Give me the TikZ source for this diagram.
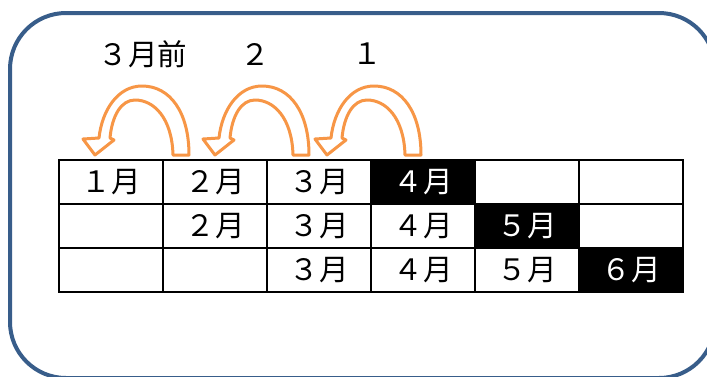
\documentclass[tikz,border=0pt]{standalone}
\usepackage{fontspec}
\newfontfamily\jp{Noto Sans CJK JP}
\usepackage{tikz}
\usetikzlibrary{positioning}
\definecolor{frameblue}{HTML}{385D8A}
\definecolor{arrorange}{HTML}{F79646}
\tikzset{
    cell/.style = {draw, line width=1.5pt, minimum width=104pt, minimum height=44pt,
                 inner sep=0pt, outer sep=0pt, font=\jp\fontsize{29.5}{32}\selectfont},
    dark/.style = {cell, fill=black, text=white},
    toplabel/.style = {inner sep=0pt, font=\jp\fontsize{29.5}{32}\selectfont},
    frame/.style = {draw=frameblue, line width=4pt, rounded corners=56pt},
    uline/.style = {draw=arrorange, line width=3pt, fill=white, line join=round},
    uturn/.pic = {
      \draw[uline] (189,155) .. controls (189,112) and (170,86) .. (142,86)
        .. controls (118,86) and (102,110) .. (99,138)
        -- (83,139) -- (95,155) -- (114,140) -- (110,138)
        .. controls (112,116) and (121,100) .. (135,100)
        .. controls (154,100) and (172,118) .. (173,155) -- cycle;
    },
}

\begin{document}
\begin{tikzpicture}[x=1pt,y=-1pt,node distance=0pt]
 \useasboundingbox (0,0) rectangle (707,376);
 \fill[white] (0,0) rectangle (707,376);
 \clip (0,0) rectangle (707,376);
 \draw[frame] (10,13) rectangle (715,378);

 % arrows
 \pic at (0,0) {uturn};
 \pic at (120,0) {uturn};
 \pic at (232,0) {uturn};

 \node (t3) [toplabel] at (143,54) {３月前};
 \node (t2) [toplabel] at (255,54) {２};
 \node (t1) [toplabel] at (367,54) {１};

 % table
 \node (c11) [cell] at (111,182) {１月};
 \node (c12) [cell, right=of c11] {２月};
 \node (c13) [cell, right=of c12] {３月};
 \node (c14) [dark, right=of c13] {４月};
 \node (c15) [cell, right=of c14] {};
 \node (c16) [cell, right=of c15] {};

 \node (c21) [cell, below=of c11] {};
 \node (c22) [cell, right=of c21] {２月};
 \node (c23) [cell, right=of c22] {３月};
 \node (c24) [cell, right=of c23] {４月};
 \node (c25) [dark, right=of c24] {５月};
 \node (c26) [cell, right=of c25] {};

 \node (c31) [cell, below=of c21] {};
 \node (c32) [cell, right=of c31] {};
 \node (c33) [cell, right=of c32] {３月};
 \node (c34) [cell, right=of c33] {４月};
 \node (c35) [cell, right=of c34] {５月};
 \node (c36) [dark, right=of c35] {６月};
\end{tikzpicture}
\end{document}
